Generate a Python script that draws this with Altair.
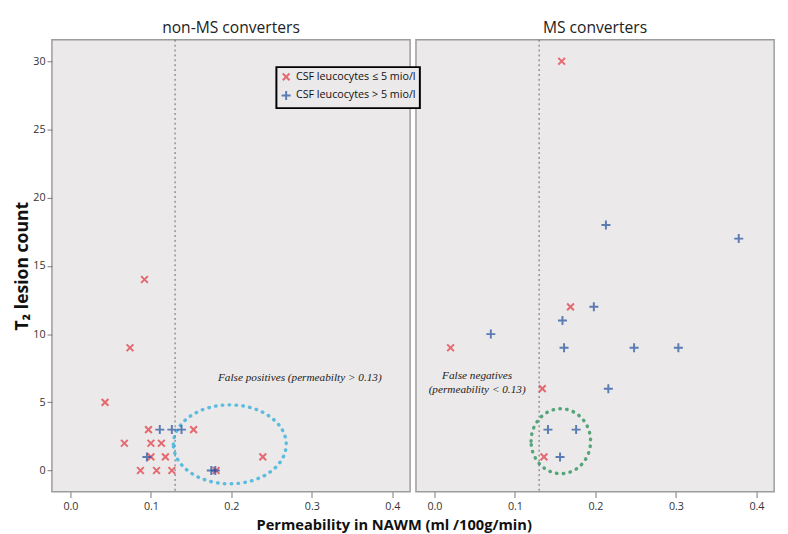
import altair as alt
import pandas as pd

# ---------------- data ----------------
GROUPS = ["CSF leucocytes \u2264 5 mio/l", "CSF leucocytes > 5 mio/l"]

# non-MS converters
nonms_low_x = [0.092, 0.074, 0.043, 0.097, 0.153, 0.067, 0.100, 0.113, 0.100, 0.118, 0.239, 0.087, 0.107, 0.126, 0.181]
nonms_low_y = [14, 9, 5, 3, 3, 2, 2, 2, 1, 1, 1, 0, 0, 0, 0]
nonms_high_x = [0.111, 0.126, 0.138, 0.095, 0.175, 0.180]
nonms_high_y = [3, 3, 3, 1, 0, 0]

# MS converters
ms_low_x = [0.158, 0.169, 0.020, 0.134, 0.136]
ms_low_y = [30, 12, 9, 6, 1]
ms_high_x = [0.213, 0.378, 0.198, 0.159, 0.070, 0.161, 0.248, 0.303, 0.216, 0.141, 0.176, 0.156]
ms_high_y = [18, 17, 12, 11, 10, 9, 9, 9, 6, 3, 3, 1]

CUTOFF = [0.13]
X_TICKS = [0.0, 0.1, 0.2, 0.3, 0.4]
Y_TICKS = [0, 5, 10, 15, 20, 25, 30]

# annotation ellipses (centre in data units) and labels
fp_center = {"perm": [0.198], "t2": [1.92]}
fn_center = {"perm": [0.157], "t2": [2.15]}
fp_text = {"perm": [0.285], "t2": [6.8], "label": ["False positives (permeabilty > 0.13)"]}
fn_text = {"perm": [0.053, 0.053], "t2": [6.95, 5.9], "label": ["False negatives", "(permeability < 0.13)"]}

# ---------------- styling ----------------
BG = "#ebe9e9"
RED = "#e2323c"
BLUE = "#1f4f9c"
CYAN = "#1ea9dc"
GREEN = "#15894c"
FONT = "Open Sans"

X_DOMAIN = [-0.023, 0.422]
Y_DOMAIN = [-1.55, 31.57]
W, H = 367, 463

CROSS = "M-0.75,-0.75L0.75,0.75M0.75,-0.75L-0.75,0.75"
PLUS = "M-1,0L1,0M0,-1L0,1"
ELL_FP = "M-1,0A1,0.7 0 1,1 1,0A1,0.7 0 1,1 -1,0Z"
ELL_FN = "M-1,0A1,1.09 0 1,1 1,0A1,1.09 0 1,1 -1,0Z"

XS = alt.Scale(domain=X_DOMAIN, nice=False, zero=False)
YS = alt.Scale(domain=Y_DOMAIN, nice=False, zero=False)

X_AXIS = alt.Axis(values=X_TICKS, format=".1f", title=None, grid=False, domain=False,
                  tickSize=6, tickColor="#777", labelColor="#333", labelFont=FONT,
                  labelFontSize=11, labelPadding=3)
Y_AXIS = alt.Axis(values=Y_TICKS, title="T\u2082 lesion count", grid=False, domain=False,
                  tickSize=5, tickColor="#777", labelColor="#333", labelFont=FONT,
                  labelFontSize=11, labelPadding=2, titleFont=FONT, titleFontSize=18,
                  titleFontWeight="bold", titleColor="#111", titlePadding=1)

LEG = alt.Legend(title=None, orient="none", legendX=230, legendY=28, strokeColor="black",
                 fillColor=BG, padding=4, symbolStrokeWidth=2, symbolSize=85,
                 labelFont=FONT, labelFontSize=11, labelColor="#111")


def frame(xs_low, ys_low, xs_high, ys_high):
    a = pd.DataFrame({"perm": xs_low, "t2": ys_low, "grp": GROUPS[0]})
    b = pd.DataFrame({"perm": xs_high, "t2": ys_high, "grp": GROUPS[1]})
    return pd.concat([a, b], ignore_index=True)


def panel(df, title, show_y, ell_center, ell_shape, ell_size, ell_color, txt):
    X = alt.X("perm:Q", scale=XS, axis=X_AXIS)
    if show_y:
        Y = alt.Y("t2:Q", scale=YS, axis=Y_AXIS)
    else:
        Y = alt.Y("t2:Q", scale=YS, axis=None)
    pts = alt.Chart(df).mark_point(filled=False, strokeWidth=2, size=85).encode(
        x=X, y=Y,
        color=alt.Color("grp:N", scale=alt.Scale(domain=GROUPS, range=[RED, BLUE]), legend=LEG),
        shape=alt.Shape("grp:N", scale=alt.Scale(domain=GROUPS, range=[CROSS, PLUS]), legend=LEG),
    )
    rule = alt.Chart(pd.DataFrame({"perm": CUTOFF})).mark_rule(
        color="#666", strokeWidth=1, strokeDash=[2, 3]
    ).encode(x=X)
    ell = alt.Chart(pd.DataFrame(ell_center)).mark_point(
        shape=ell_shape, size=ell_size, filled=False, color=ell_color,
        strokeWidth=3.5, strokeDash=[0.5, 6.5], strokeCap="round"
    ).encode(x=X, y=Y)
    text = alt.Chart(pd.DataFrame(txt)).mark_text(
        font="Liberation Serif", fontStyle="italic", fontSize=11.5, color="#222"
    ).encode(x=X, y=Y, text="label:N")
    return alt.layer(rule, ell, text, pts).properties(
        width=W, height=H,
        title=alt.TitleParams(title, font=FONT, fontSize=16, fontWeight="normal", color="#222", offset=3),
    )


left = panel(frame(nonms_low_x, nonms_low_y, nonms_high_x, nonms_high_y), "non-MS converters", True,
             fp_center, ELL_FP, 13360, CYAN, fp_text)
right = panel(frame(ms_low_x, ms_low_y, ms_high_x, ms_high_y), "MS converters", False,
              fn_center, ELL_FN, 3720, GREEN, fn_text)

chart = alt.hconcat(left, right, spacing=4).properties(
    title=alt.TitleParams("Permeability in NAWM (ml /100g/min)", orient="bottom", anchor="middle",
                          font=FONT, fontSize=15, fontWeight="bold", color="#111", offset=6),
).configure_view(
    stroke="#9c9c9c", strokeWidth=1.5, fill=BG
).configure_legend(strokeWidth=2)

chart.save("out.html", embed_options={"renderer": "svg", "actions": False})
